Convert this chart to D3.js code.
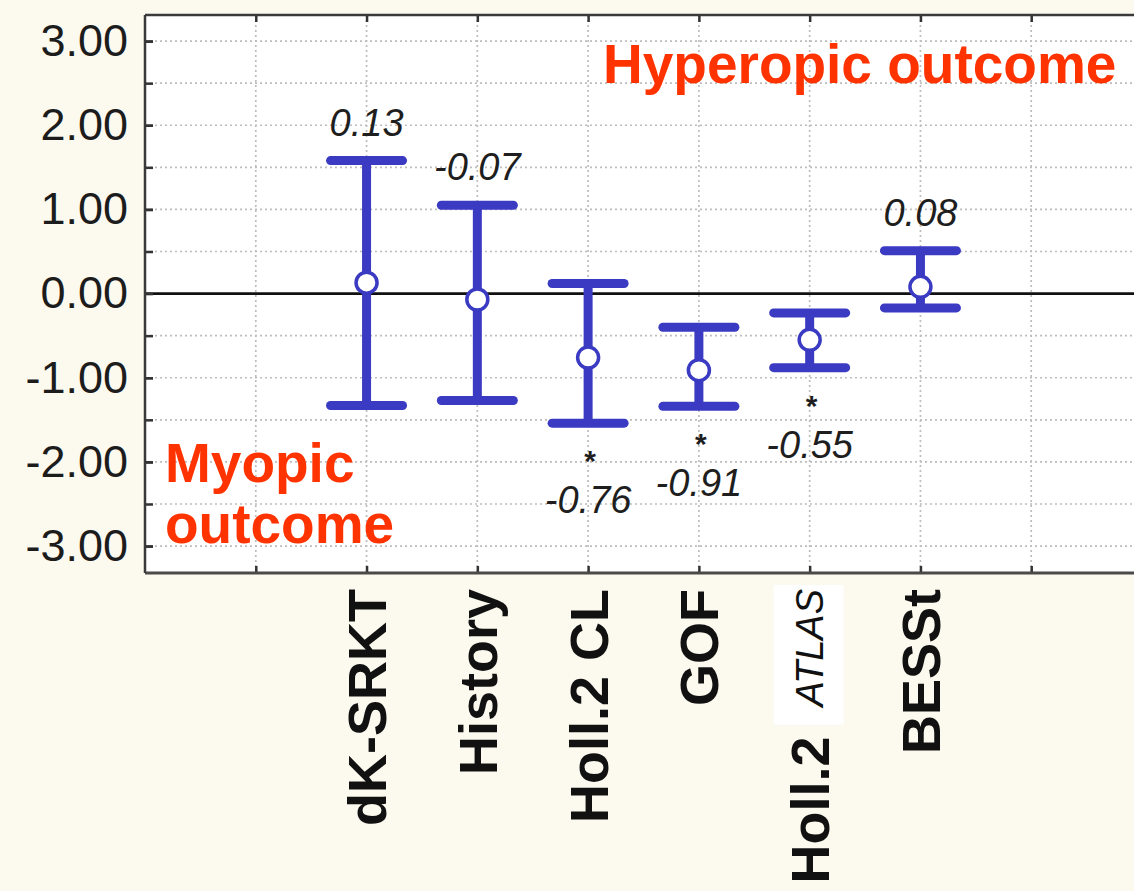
<!DOCTYPE html>
<html><head><meta charset="utf-8">
<script src="https://cdn.jsdelivr.net/npm/d3@7"></script>
<style>
html,body{margin:0;padding:0;background:#fcf9ee;overflow:hidden}
text{font-family:"Liberation Sans",Arial,Helvetica,sans-serif}
</style>
</head><body>
<svg id="chart" width="1134" height="891"></svg>
<script>
// Mean prediction error per formula with its confidence interval (D)
const categories = ["dK-SRKT", "History", "Holl.2 CL", "GOF", "Holl.2 ATLAS", "BESSt"];
const means = [0.13, -0.07, -0.76, -0.91, -0.55, 0.08];
const upper = [1.58, 1.05, 0.12, -0.40, -0.23, 0.51];
const lower = [-1.33, -1.27, -1.54, -1.34, -0.88, -0.17];
const significant = [false, false, true, true, true, false];
const yTickValues = [3, 2, 1, 0, -1, -2, -3];
const yGridValues = [3, 2.5, 2, 1.5, 1, 0.5, -0.5, -1, -1.5, -2, -2.5, -3];
const slotValues = [0, 1, 2, 3, 4, 5, 6, 7];

const svg = d3.select("#chart");
const W = 1134, H = 891;
const plot = {left: 145, right: 1142, top: 15, bottom: 573};
const blue = "#3a3ac2";
const red = "#ff3300";

svg.append("rect").attr("width", W).attr("height", H).attr("fill", "#fcf9ee");

const x = d3.scaleLinear().domain([-1, 8]).range([plot.left, plot.right]);
const y = d3.scaleLinear().domain([-3.32, 3.31]).range([plot.bottom, plot.top]);
const col = i => x(i + 1);

// plotting area
svg.append("rect")
  .attr("x", plot.left).attr("y", plot.top)
  .attr("width", plot.right - plot.left).attr("height", plot.bottom - plot.top)
  .attr("fill", "#ffffff");

// dotted grid
const grid = svg.append("g").attr("stroke", "#bdbdbd").attr("stroke-width", 1.7)
  .attr("stroke-dasharray", "2,3");
grid.selectAll("line.h").data(yGridValues).join("line").attr("class", "h")
  .attr("x1", plot.left).attr("x2", plot.right)
  .attr("y1", d => y(d)).attr("y2", d => y(d));
grid.selectAll("line.v").data(slotValues).join("line").attr("class", "v")
  .attr("x1", d => x(d)).attr("x2", d => x(d))
  .attr("y1", plot.top).attr("y2", plot.bottom);

// zero reference line
svg.append("line")
  .attr("x1", plot.left).attr("x2", plot.right)
  .attr("y1", y(0)).attr("y2", y(0))
  .attr("stroke", "#111").attr("stroke-width", 2.8);

// axes
const yAxis = d3.axisLeft(y).tickValues(yTickValues).tickSize(-8).tickPadding(17)
  .tickFormat(d => d.toFixed(2));
const gy = svg.append("g").attr("transform", `translate(${plot.left},0)`).call(yAxis);
gy.select(".domain").remove();
gy.selectAll(".tick line").attr("stroke", "#333").attr("stroke-width", 2.5);
gy.selectAll(".tick text").attr("font-size", 45).attr("fill", "#1c1c1c")
  .attr("font-family", "'Liberation Sans', Arial, sans-serif");

const yMinor = d3.axisLeft(y).tickValues(yGridValues).tickSize(-8).tickFormat("");
const gym = svg.append("g").attr("transform", `translate(${plot.left},0)`).call(yMinor);
gym.select(".domain").remove();
gym.selectAll(".tick line").attr("stroke", "#333").attr("stroke-width", 2.5);

const xTop = d3.axisTop(x).tickValues(slotValues).tickSize(-7).tickFormat("");
const gxt = svg.append("g").attr("transform", `translate(0,${plot.top})`).call(xTop);
gxt.select(".domain").remove();
gxt.selectAll(".tick line").attr("stroke", "#333").attr("stroke-width", 2.5);

const xBot = d3.axisBottom(x).tickValues(slotValues).tickSize(-7).tickFormat("");
const gxb = svg.append("g").attr("transform", `translate(0,${plot.bottom})`).call(xBot);
gxb.select(".domain").remove();
gxb.selectAll(".tick line").attr("stroke", "#333").attr("stroke-width", 2.5);

// frame
svg.append("line").attr("x1", plot.left).attr("x2", plot.right)
  .attr("y1", plot.top).attr("y2", plot.top).attr("stroke", "#3a3a3a").attr("stroke-width", 2.5);
svg.append("line").attr("x1", plot.left).attr("x2", plot.right)
  .attr("y1", plot.bottom).attr("y2", plot.bottom).attr("stroke", "#4a4a4a").attr("stroke-width", 3);
svg.append("line").attr("x1", plot.left).attr("x2", plot.left)
  .attr("y1", plot.top).attr("y2", plot.bottom).attr("stroke", "#3a3a3a").attr("stroke-width", 2.5);

// whiskers
const idx = d3.range(categories.length);
const capHalf = 36;
const marks = svg.append("g").attr("stroke", blue).attr("stroke-width", 9).attr("stroke-linecap", "round");
marks.selectAll("line.stem").data(idx).join("line").attr("class", "stem")
  .attr("stroke-linecap", "butt")
  .attr("x1", col).attr("x2", col)
  .attr("y1", i => y(upper[i])).attr("y2", i => y(lower[i]));
marks.selectAll("line.capU").data(idx).join("line").attr("class", "capU")
  .attr("x1", i => col(i) - capHalf).attr("x2", i => col(i) + capHalf)
  .attr("y1", i => y(upper[i])).attr("y2", i => y(upper[i]));
marks.selectAll("line.capL").data(idx).join("line").attr("class", "capL")
  .attr("x1", i => col(i) - capHalf).attr("x2", i => col(i) + capHalf)
  .attr("y1", i => y(lower[i])).attr("y2", i => y(lower[i]));

// mean markers
svg.append("g").selectAll("circle").data(idx).join("circle")
  .attr("cx", col).attr("cy", i => y(means[i])).attr("r", 10.5)
  .attr("fill", "#ffffff").attr("stroke", blue).attr("stroke-width", 3.5);

// mean values: above the interval, or below it with a star when significant
const labels = svg.append("g").attr("fill", "#1e1e1e").attr("text-anchor", "middle");
labels.selectAll("text.val").data(idx).join("text").attr("class", "val")
  .attr("x", col)
  .attr("y", i => significant[i] ? y(lower[i]) + 90 : y(upper[i]) - 25)
  .attr("font-size", 38).attr("font-style", "italic")
  .text(i => means[i].toFixed(2));
labels.selectAll("text.star").data(idx.filter(i => significant[i])).join("text")
  .attr("class", "star")
  .attr("x", i => col(i) + 2)
  .attr("y", i => y(lower[i]) + 48)
  .attr("font-size", 30).attr("font-weight", "bold")
  .text("*");

// category labels (rotated)
const catY = plot.bottom + 16;
const catG = svg.append("g");
idx.forEach(i => {
  const name = categories[i];
  const cx = col(i);
  if (name === "Holl.2 ATLAS") {
    const sub = catG.append("text")
      .attr("transform", `translate(${cx},${catY}) rotate(-90)`)
      .attr("text-anchor", "end").attr("dy", "0.36em")
      .attr("font-size", 38).attr("font-style", "italic").attr("fill", "#111")
      .text("ATLAS");
    const L = sub.node().getComputedTextLength();
    catG.insert("rect", "text")
      .attr("x", cx - 36).attr("y", catY - 4)
      .attr("width", 70).attr("height", L + 22)
      .attr("fill", "#ffffff");
    catG.append("text")
      .attr("transform", `translate(${cx},${catY + L + 30}) rotate(-90)`)
      .attr("text-anchor", "end").attr("dy", "0.36em")
      .attr("font-size", 54).attr("font-weight", "bold").attr("fill", "#111")
      .text("Holl.2");
  } else {
    catG.append("text")
      .attr("transform", `translate(${cx},${catY}) rotate(-90)`)
      .attr("text-anchor", "end").attr("dy", "0.36em")
      .attr("font-size", 54).attr("font-weight", "bold").attr("fill", "#111")
      .text(name);
  }
});

// outcome annotations
const ann = svg.append("g").attr("font-size", 55).attr("font-weight", "bold").attr("fill", red);
ann.append("text").attr("x", 603).attr("y", 83).text("Hyperopic outcome");
ann.append("text").attr("x", 165).attr("y", 482).text("Myopic");
ann.append("text").attr("x", 165).attr("y", 543).text("outcome");
</script>
</body></html>
